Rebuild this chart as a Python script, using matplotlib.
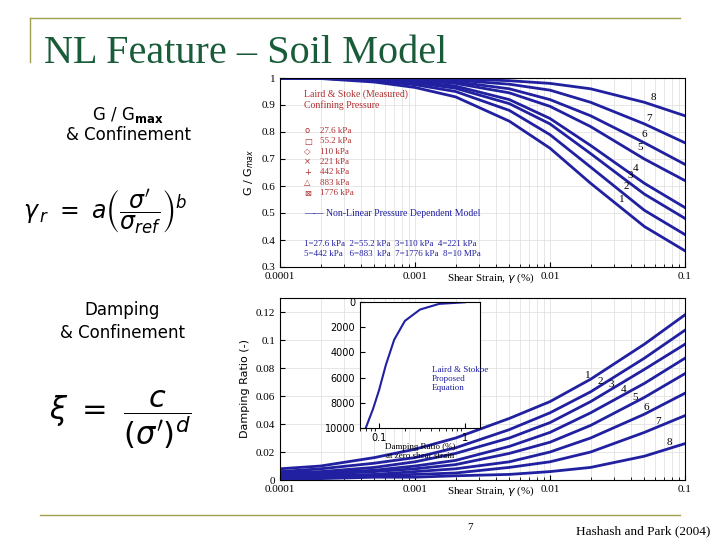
import numpy as np
import matplotlib
matplotlib.use("Agg")
import matplotlib.pyplot as plt
from matplotlib.lines import Line2D

strain = [1e-4, 2e-4, 5e-4, 1e-3, 2e-3, 5e-3, 1e-2, 2e-2, 5e-2, 1e-1]
g1 = [1.0, 0.998, 0.985, 0.965, 0.93, 0.84, 0.74, 0.61, 0.45, 0.36]
g2 = [1.0, 0.999, 0.99, 0.975, 0.95, 0.88, 0.79, 0.67, 0.51, 0.42]
g3 = [1.0, 0.999, 0.993, 0.982, 0.962, 0.905, 0.83, 0.72, 0.57, 0.48]
g4 = [1.0, 1.0, 0.995, 0.987, 0.97, 0.92, 0.85, 0.75, 0.61, 0.52]
g5 = [1.0, 1.0, 0.997, 0.992, 0.98, 0.945, 0.895, 0.82, 0.70, 0.62]
g6 = [1.0, 1.0, 0.998, 0.994, 0.986, 0.96, 0.92, 0.86, 0.76, 0.68]
g7 = [1.0, 1.0, 0.999, 0.997, 0.992, 0.977, 0.955, 0.91, 0.83, 0.76]
g8 = [1.0, 1.0, 1.0, 0.999, 0.997, 0.99, 0.98, 0.96, 0.91, 0.86]
d1 = [0.008, 0.010, 0.016, 0.022, 0.030, 0.044, 0.056, 0.072, 0.097, 0.118]
d2 = [0.006, 0.008, 0.012, 0.016, 0.023, 0.036, 0.048, 0.063, 0.087, 0.107]
d3 = [0.005, 0.006, 0.009, 0.013, 0.019, 0.030, 0.041, 0.056, 0.079, 0.097]
d4 = [0.004, 0.005, 0.007, 0.010, 0.014, 0.024, 0.034, 0.048, 0.069, 0.087]
d5 = [0.003, 0.004, 0.006, 0.008, 0.011, 0.019, 0.027, 0.039, 0.059, 0.076]
d6 = [0.003, 0.003, 0.004, 0.006, 0.008, 0.013, 0.020, 0.030, 0.047, 0.062]
d7 = [0.002, 0.002, 0.003, 0.004, 0.005, 0.009, 0.013, 0.020, 0.034, 0.046]
d8 = [0.001, 0.001, 0.002, 0.002, 0.003, 0.004, 0.006, 0.009, 0.017, 0.026]
curve_labels = ["1", "2", "3", "4", "5", "6", "7", "8"]
legend_pressures = ["27.6 kPa", "55.2 kPa", "110 kPa", "221 kPa", "442 kPa", "883 kPa", "1776 kPa"]
inset_damp = [0.07, 0.085, 0.1, 0.12, 0.15, 0.2, 0.3, 0.5, 1.0]
inset_press = [10000, 8500, 7000, 5000, 3000, 1500, 600, 150, 20]

G = [g1, g2, g3, g4, g5, g6, g7, g8]
D = [d1, d2, d3, d4, d5, d6, d7, d8]
blue = "#2020a0"
serif = "Liberation Serif"

fig = plt.figure(figsize=(7.2, 5.4), dpi=100)
W, H = 720, 540
def ax_at(x0, y0, x1, y1):
    return fig.add_axes([x0 / W, 1 - y1 / H, (x1 - x0) / W, (y1 - y0) / H])

olive = "#a0a050"
fig.add_artist(Line2D([30 / W, 680 / W], [1 - 18 / H] * 2, color=olive, lw=1))
fig.add_artist(Line2D([30 / W] * 2, [1 - 18 / H, 1 - 62 / H], color=olive, lw=1))
fig.add_artist(Line2D([40 / W, 680 / W], [1 - 515 / H] * 2, color=olive, lw=1))
fig.text(44 / W, 1 - 63 / H, "NL Feature – Soil Model", family=serif,
         fontsize=29, color="#1a5c3a", va="baseline")
fig.text(470 / W, 1 - 528 / H, "7", fontsize=8, ha="center", va="center", family=serif)
fig.text(643 / W, 1 - 531 / H, "Hashash and Park (2004)", fontsize=9.5, ha="center",
         va="center", family=serif)

fig.text(128 / W, 1 - 115 / H, r"G / G$_{\mathbf{max}}$", fontsize=12, ha="center", va="center")
fig.text(128 / W, 1 - 135 / H, "& Confinement", fontsize=12, ha="center", va="center")
fig.text(105 / W, 1 - 212 / H, r"$\gamma_{\,r}\ =\ a\left(\dfrac{\sigma'}{\sigma_{ref}}\right)^{b}$",
         fontsize=17, ha="center", va="center")
fig.text(122 / W, 1 - 310 / H, "Damping", fontsize=12, ha="center", va="center")
fig.text(122 / W, 1 - 333 / H, "& Confinement", fontsize=12, ha="center", va="center")
fig.text(120 / W, 1 - 420 / H, r"$\xi\ =\ \dfrac{c}{(\sigma')^{d}}$", fontsize=22,
         ha="center", va="center")

ax1 = ax_at(280, 78, 685, 267)
ax2 = ax_at(280, 298, 685, 480)
for ax in (ax1, ax2):
    ax.set_xscale("log")
    ax.set_xlim(1e-4, 0.1)
    ax.set_xticks([1e-4, 1e-3, 1e-2, 1e-1])
    ax.set_xticklabels(["0.0001", "0.001", "0.01", "0.1"], family=serif, fontsize=8)
    ax.grid(True, which="both", color="#dddddd", lw=0.5)
    ax.tick_params(labelsize=8, direction="in", which="both")
    ax.text(0.52, -0.022, r"Shear Strain, $\gamma$ (%)", transform=ax.transAxes,
            ha="center", va="top", fontsize=8, family=serif)

ax1.set_ylim(0.3, 1.0)
ax1.set_yticks(np.arange(0.3, 1.01, 0.1))
ax1.set_yticklabels(["0.3", "0.4", "0.5", "0.6", "0.7", "0.8", "0.9", "1"], family=serif)
ax1.set_ylabel("G / G$_{max}$", fontsize=8)
for g, lab in zip(G, curve_labels):
    ax1.plot(strain, g, color=blue, lw=2)
    x = 0.03 * 1.08 ** int(lab)
    ax1.text(x, np.interp(np.log10(x), np.log10(strain), g) + 0.015, lab,
             fontsize=8, family=serif)
ax1.text(0.06, 0.94, "Laird & Stoke (Measured)\nConfining Pressure", transform=ax1.transAxes,
         va="top", fontsize=7, color="#b03030", family=serif)
for i, p in enumerate(legend_pressures):
    ax1.text(0.1, 0.72 - i * 0.055, p, transform=ax1.transAxes, fontsize=6.5,
             color="#b03030", family=serif, va="center")
    ax1.text(0.06, 0.72 - i * 0.055, "o□◇×+△⊠"[i], transform=ax1.transAxes, fontsize=6,
             color="#b03030", va="center")
ax1.text(0.06, 0.27, "—— Non-Linear Pressure Dependent Model", transform=ax1.transAxes,
         fontsize=7, color=blue, family=serif)
ax1.text(0.06, 0.06, "1=27.6 kPa  2=55.2 kPa  3=110 kPa  4=221 kPa\n5=442 kPa   6=883  kPa  7=1776 kPa  8=10 MPa",
         transform=ax1.transAxes, fontsize=6.5, color=blue, family=serif)

ax2.set_ylim(0, 0.13)
ax2.set_yticks(np.arange(0, 0.121, 0.02))
ax2.set_yticklabels(["0", "0.02", "0.04", "0.06", "0.08", "0.1", "0.12"], family=serif)
ax2.set_ylabel("Damping Ratio (-)", fontsize=8)
for d, lab in zip(D, curve_labels):
    ax2.plot(strain, d, color=blue, lw=2)
    x = 0.015 * 1.22 ** int(lab)
    ax2.text(x, np.interp(np.log10(x), np.log10(strain), d) + 0.003, lab, fontsize=8,
             family=serif)

ax3 = ax_at(360, 302, 480, 428)
ax3.set_xscale("log")
ax3.set_xlim(0.06, 1.5)
ax3.set_ylim(10000, 0)
ax3.set_yticks([0, 2000, 4000, 6000, 8000, 10000])
ax3.set_xticks([0.1, 1])
ax3.set_xticklabels(["0.1", "1"])
ax3.tick_params(labelsize=7, direction="in")
ax3.plot(inset_damp, inset_press, color=blue, lw=1.5)
ax3.text(0.5, -0.12, "Damping Ratio (%)\nat zero shear strain", transform=ax3.transAxes,
         ha="center", va="top", fontsize=6.5, family=serif)
ax3.text(0.6, 0.3, "Laird & Stokoe\nProposed\nEquation", transform=ax3.transAxes,
         fontsize=6.5, color=blue, family=serif)

fig.savefig("out.png", dpi=100)
